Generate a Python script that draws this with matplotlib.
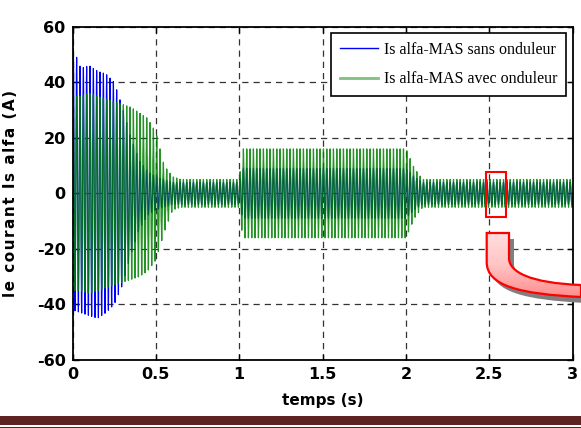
import numpy as np
import matplotlib.pyplot as plt
from matplotlib.path import Path
from matplotlib.patches import PathPatch, Rectangle
from matplotlib.colors import LinearSegmentedColormap

plt.rcParams['axes.unicode_minus'] = False

# envelope of the stator current Is alpha (A), read at these instants (s)
t_env = [0.0, 0.05, 0.1, 0.15, 0.2, 0.25, 0.3, 0.35, 0.4, 0.45, 0.5, 0.55,
         0.6, 0.65, 1.0, 1.02, 1.05, 2.0, 2.05, 2.1, 2.15, 3.0]

# direct grid supply (sans onduleur)
sans_hi = [53, 45, 46, 44, 43, 40, 31, 20, 12, 8, 6, 5, 4, 4, 4, 9, 9, 9, 6, 4, 4, 4]
sans_lo = [-42, -43, -44, -45, -43, -40, -33, -22, -13, -8, -6, -5, -4, -4, -4,
           -9, -9, -9, -6, -4, -4, -4]

# inverter supply (avec onduleur)
avec_hi = [35, 35, 36, 35, 34, 33, 32, 31, 29, 27, 22, 10, 6, 5, 5, 16, 16, 16, 9, 5, 5, 5]
avec_lo = [-35, -35, -36, -35, -34, -33, -32, -31, -30, -28, -24, -14, -6, -5, -5,
           -16, -16, -16, -9, -5, -5, -5]

f_grid = 50.0
x_ticks = [0, 0.5, 1, 1.5, 2, 2.5, 3]
x_ticklabels = ['0', '0.5', '1', '1.5', '2', '2.5', '3']
y_ticks = [-60, -40, -20, 0, 20, 40, 60]

# zoomed window marked on the steady-state part
zoom_t = [2.48, 2.60]
zoom_i = [-8.6, 7.6]


def build_current(hi, lo, harm=0.0):
    t = np.arange(0, 3.0, 1 / 5000)
    up = np.interp(t, t_env, hi)
    dn = np.interp(t, t_env, lo)
    mid = (up + dn) / 2
    amp = (up - dn) / 2
    wave = np.sin(2 * np.pi * f_grid * t)
    if harm:
        wave = (wave + harm * np.sin(2 * np.pi * 5 * f_grid * t)) / (1 + harm)
    return t, mid + amp * wave


W, H = 581, 428
fig = plt.figure(figsize=(W / 100, H / 100), dpi=100)
ax = fig.add_axes([72.5 / W, 1 - 360 / H, (572.7 - 72.5) / W, (360 - 26.7) / H])

t1, i_sans = build_current(sans_hi, sans_lo)
t2, i_avec = build_current(avec_hi, avec_lo, harm=0.12)
ax.plot(t1, i_sans, color='#0000ff', lw=0.8, label='Is alfa-MAS sans onduleur')
ax.plot(t2, i_avec, color='#008000', lw=0.9, alpha=0.85, label='Is alfa-MAS avec onduleur')

ax.set_xlim(0, 3)
ax.set_ylim(-60, 60)
ax.set_xticks(x_ticks)
ax.set_xticklabels(x_ticklabels)
ax.set_yticks(y_ticks)
ax.grid(True, color='#333333', ls=(0, (5, 4)), lw=0.9)
ax.tick_params(direction='in', length=4, width=1, top=True, right=True,
               labelsize=11.5, pad=5)
for lab in ax.get_xticklabels() + ax.get_yticklabels():
    lab.set_fontweight('bold')
for sp in ax.spines.values():
    sp.set_linewidth(1.3)

ax.set_xlabel('temps (s)', fontsize=11, fontweight='bold')
ax.xaxis.set_label_coords(0.5, -0.1)
# spaced-out lettering on the vertical title
ylab = '\u200a'.join('le courant Is alfa (A)')
ax.set_ylabel(ylab, fontsize=11, fontweight='bold')
ax.yaxis.set_label_coords(-0.109, 0.5)

leg = ax.legend(loc='upper right', prop={'family': 'Liberation Serif', 'size': 11.5},
                fancybox=False, edgecolor='black', framealpha=1, handlelength=2.4,
                labelspacing=0.85, borderaxespad=0.4, borderpad=0.55, handletextpad=0.35)
leg.get_frame().set_linewidth(1.2)
leg.legend_handles[0].set_linewidth(1.0)
leg.legend_handles[1].set_linewidth(2)
leg.legend_handles[1].set_alpha(0.5)

ax.add_patch(Rectangle((zoom_t[0], zoom_i[0]), zoom_t[1] - zoom_t[0], zoom_i[1] - zoom_i[0],
                       fill=False, edgecolor='red', lw=1.5, zorder=5))

# overlay in pixel units for the callout band and the footer bar
ov = fig.add_axes([0, 0, 1, 1], zorder=10)
ov.set_xlim(0, W)
ov.set_ylim(H, 0)
ov.axis('off')

verts = [(486.7, 233), (509, 233), (509, 258),
         (509, 272), (530, 283), (581, 285),
         (581, 297),
         (520, 294), (486.7, 286), (486.7, 262),
         (486.7, 233)]
codes = [Path.MOVETO, Path.LINETO, Path.LINETO,
         Path.CURVE4, Path.CURVE4, Path.CURVE4,
         Path.LINETO,
         Path.CURVE4, Path.CURVE4, Path.CURVE4,
         Path.CLOSEPOLY]
band = Path(verts, codes)
shadow = Path([(x + 5, y + 6) for x, y in verts], codes)
ov.add_patch(PathPatch(shadow, facecolor='#7f7f7f', edgecolor='none', clip_on=False))
fill = PathPatch(band, facecolor='none', edgecolor='none')
ov.add_patch(fill)
pink = LinearSegmentedColormap.from_list('pink', ['#ffdede', '#ffc4c4', '#ff8e8e'])
grad = np.linspace(0, 1, 64).reshape(-1, 1)
img = ov.imshow(grad, cmap=pink, extent=(480, 581, 297, 233), aspect='auto', zorder=11)
img.set_clip_path(fill)
ov.add_patch(PathPatch(band, facecolor='none', edgecolor='#ff0000', lw=1.6, zorder=12))
ov.set_xlim(0, W)
ov.set_ylim(H, 0)

ov.add_patch(Rectangle((0, 416), W, 9, facecolor='#5e2222', edgecolor='none'))
ov.add_patch(Rectangle((0, 426.5), W, 1.5, facecolor='#5e2222', edgecolor='none'))

fig.savefig('out.png', dpi=100)
